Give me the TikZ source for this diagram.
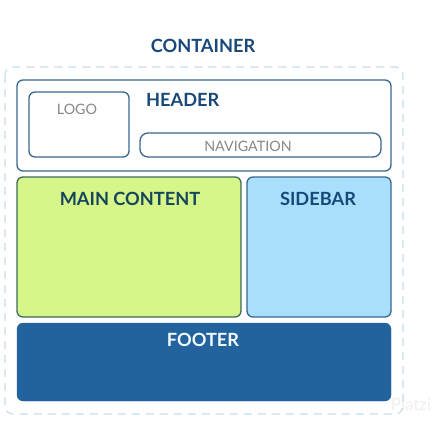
\documentclass[tikz,border=0pt]{standalone}
\usepackage{fontspec}
\setmainfont{Lato}
\definecolor{titleblue}{HTML}{184878}
\definecolor{boxline}{HTML}{3A6790}
\definecolor{dashline}{HTML}{C8DDEC}
\definecolor{maingreen}{HTML}{D6F68A}
\definecolor{mainline}{HTML}{3E6A5A}
\definecolor{maintext}{HTML}{15465C}
\definecolor{sideblue}{HTML}{A9DFFD}
\definecolor{footblue}{HTML}{22639D}
\definecolor{graytext}{HTML}{888888}
\begin{document}
\begin{tikzpicture}[x=1pt,y=-1pt,
  title/.style={font=\fontsize{18.2}{21}\selectfont\bfseries, text=titleblue, inner sep=0pt},
  plain/.style={font=\fontsize{14.3}{17}\selectfont, text=graytext, inner sep=0pt},
  panel/.style={draw=boxline, line width=1.3pt, rounded corners=6pt},
]
\useasboundingbox (0,0) rectangle (437,421);
\fill[white] (0,0) rectangle (437,421);
% watermark
\node[font=\fontsize{17}{20}\selectfont, text=black!6, inner sep=0pt] (wm) at (411,404) {Platzi};
% container
\node[title] (ctitle) at (203,46) {CONTAINER};
\draw[dashline, line width=1.2pt, dash pattern=on 8pt off 6pt, rounded corners=8pt] (5,67) rectangle (403,414);
\coordinate (cont) at (204,240);
% header
\draw[panel, fill=white] (17,80) rectangle (391,171);
\draw[panel, fill=white] (29,92) rectangle (129,157);
\node[plain] (logo) at (77,109) {LOGO};
\node[title, anchor=west] (header) at (146,100) {HEADER};
\draw[panel, rounded corners=8pt, fill=white] (140,133) rectangle (381,157);
\node[plain] (nav) at (248,146) {NAVIGATION};
% main
\draw[draw=mainline, line width=1.3pt, rounded corners=6pt, fill=maingreen] (17,177) rectangle (241,317);
\node[title, text=maintext] (main) at (130,199) {MAIN CONTENT};
% sidebar
\draw[panel, fill=sideblue] (247,177) rectangle (391,317);
\node[title] (side) at (318,199) {SIDEBAR};
% footer
\draw[footblue, fill=footblue, rounded corners=6pt] (17,323) rectangle (391,401);
\node[title, text=white!95!cyan] (foot) at (203,340) {FOOTER};
\end{tikzpicture}
\end{document}
